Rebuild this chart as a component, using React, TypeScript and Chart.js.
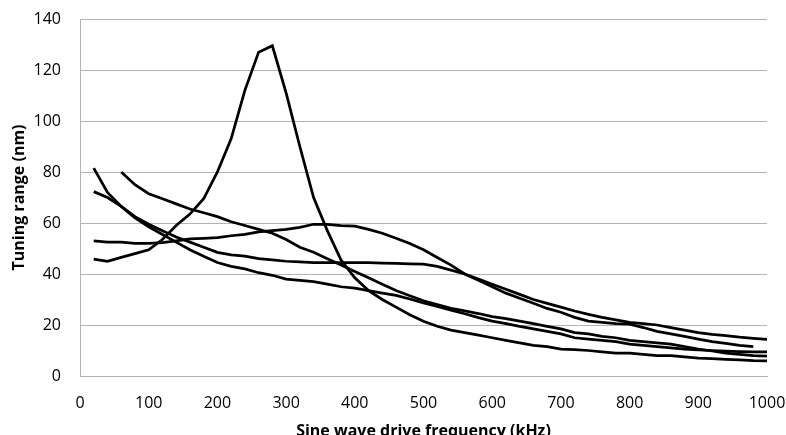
import React, { useEffect, useRef } from 'react';
import { Chart, registerables } from 'chart.js';

Chart.register(...registerables);

const freqs = [
  20, 40, 60, 80, 100, 120, 140, 160, 180, 200,
  220, 240, 260, 280, 300, 320, 340, 360, 380, 400,
  420, 440, 460, 480, 500, 520, 540, 560, 580, 600,
  620, 640, 660, 680, 700, 720, 740, 760, 780, 800,
  820, 840, 860, 880, 900, 920, 940, 960, 980, 1000,
];

// resonant peak series
const seriesA = [
  45.8, 45, 46.5, 48, 49.5, 53.5, 59, 63.5, 69.5, 80,
  93, 112, 127, 129.5, 111, 90, 70, 57, 45.5, 38.5,
  33.5, 30, 27, 24, 21.5, 19.5, 18, 17, 16, 15,
  14, 13, 12, 11.5, 10.5, 10.3, 10, 9.5, 9, 9,
  8.5, 8, 8, 7.5, 7, 6.8, 6.5, 6.3, 6, 5.9,
];

const seriesB = [
  81.5, 72, 66.5, 62, 58.5, 55.5, 52.5, 49.5, 47, 44.5,
  43, 42, 40.5, 39.5, 38, 37.5, 37, 36, 35, 34.5,
  33.5, 32.5, 31.6, 30.2, 28.7, 27.3, 25.8, 24.4, 22.9, 21.5,
  20.5, 19.5, 18.5, 17.5, 16.5, 15, 14.5, 14, 13.5, 12.5,
  12, 11.5, 11, 10.5, 10.2, 10, 9.8, 9.6, 9.5, 9.5,
];

const seriesC = [
  72.3, 70, 66.5, 62.5, 59.5, 57, 54.5, 52.5, 50.5, 48.5,
  47.5, 47, 46, 45.5, 45, 44.8, 44.5, 44.5, 44.5, 44.5,
  44.5, 44.3, 44.2, 44, 43.9, 43, 41.5, 40, 38, 36,
  34, 32, 30, 28.5, 27, 25.5, 24.2, 23, 22, 21,
  20.5, 20, 19, 18, 17, 16.3, 15.8, 15.2, 14.8, 14.4,
];

const seriesD = [
  null, null, 80, 75, 71.5, 69.5, 67.5, 65.5, 64, 62.5,
  60.5, 59, 57.5, 56, 53.5, 50.5, 48.5, 46, 43.5, 41,
  38.5, 36, 33.5, 31.5, 29.5, 28, 26.5, 25.5, 24.5, 23.3,
  22.5, 21.5, 20.5, 19.5, 18.5, 17, 16.5, 15.5, 15, 14,
  13.5, 13, 12.5, 11.5, 10.5, 9.8, 9, 8.5, 8, 7.8,
];

const seriesE = [
  53, 52.5, 52.5, 52, 52, 52.3, 53, 53.8, 54, 54.3,
  55, 55.5, 56.5, 57, 57.5, 58.3, 59.5, 59.5, 59, 58.8,
  57.5, 56, 54, 52, 49.5, 46.5, 43.5, 40, 37.5, 35,
  32.5, 30.5, 28.5, 26.5, 25, 23, 21.5, 21, 20.5, 20.3,
  19, 17.5, 16.5, 15.5, 14.5, 13.5, 12.8, 12, 11.5, null,
];

const xTitle = 'Sine wave drive frequency (kHz)';
const yTitle = 'Tuning range (nm)';

const CANVAS_W = 786;
const CANVAS_H = 445;

export default function App() {
  const ref = useRef<HTMLCanvasElement>(null);

  useEffect(() => {
    if (!ref.current) return;
    const mk = (vals: (number | null)[]) => ({
      data: freqs
        .map((f, i) => ({ x: f, y: vals[i] }))
        .filter((p) => p.y !== null) as { x: number; y: number }[],
      borderColor: '#000000',
      backgroundColor: '#000000',
      borderWidth: 2.75,
      pointRadius: 0,
      tension: 0,
      fill: false,
    });
    const tickFont = { family: '"Open Sans", sans-serif', size: 16 };
    const titleFont = { family: '"Open Sans", sans-serif', size: 16, weight: 'bold' as const };
    const chart = new Chart(ref.current, {
      type: 'line',
      data: {
        datasets: [mk(seriesA), mk(seriesB), mk(seriesC), mk(seriesD), mk(seriesE)],
      },
      options: {
        animation: false,
        responsive: false,
        layout: { padding: { top: 19, right: 19, left: 0, bottom: 0 } },
        plugins: { legend: { display: false }, tooltip: { enabled: false } },
        scales: {
          x: {
            type: 'linear',
            min: 0,
            max: 1000,
            ticks: {
              stepSize: 100,
              padding: 18,
              font: tickFont,
              color: '#000',
              maxRotation: 0,
              callback: (v: any) => String(v),
            },
            grid: { display: false, drawTicks: false },
            border: { display: true, color: '#b4b4b4', width: 1 },
            title: {
              display: true,
              text: xTitle,
              font: titleFont,
              color: '#000',
              padding: { top: 0, bottom: 4 },
            },
            afterFit: (s: any) => {
              s.height = CANVAS_H - 376;
              s.paddingLeft = 0;
              s.paddingRight = 0;
            },
          },
          y: {
            min: 0,
            max: 140,
            ticks: { stepSize: 20, padding: 19, font: tickFont, color: '#000' },
            grid: { color: '#b4b4b4', drawTicks: false, lineWidth: 1 },
            border: { display: true, color: '#b4b4b4', width: 1 },
            title: {
              display: true,
              text: yTitle,
              font: titleFont,
              color: '#000',
              padding: { top: 10, bottom: 0 },
            },
            afterFit: (s: any) => {
              s.width = 80;
              s.paddingTop = 0;
              s.paddingBottom = 0;
            },
          },
        },
      },
    });
    return () => chart.destroy();
  }, []);

  return (
    <div style={{ position: 'fixed', left: 0, top: 0, width: CANVAS_W, height: CANVAS_H, background: '#fff' }}>
      <canvas ref={ref} width={CANVAS_W} height={CANVAS_H} style={{ display: 'block' }} />
    </div>
  );
}
